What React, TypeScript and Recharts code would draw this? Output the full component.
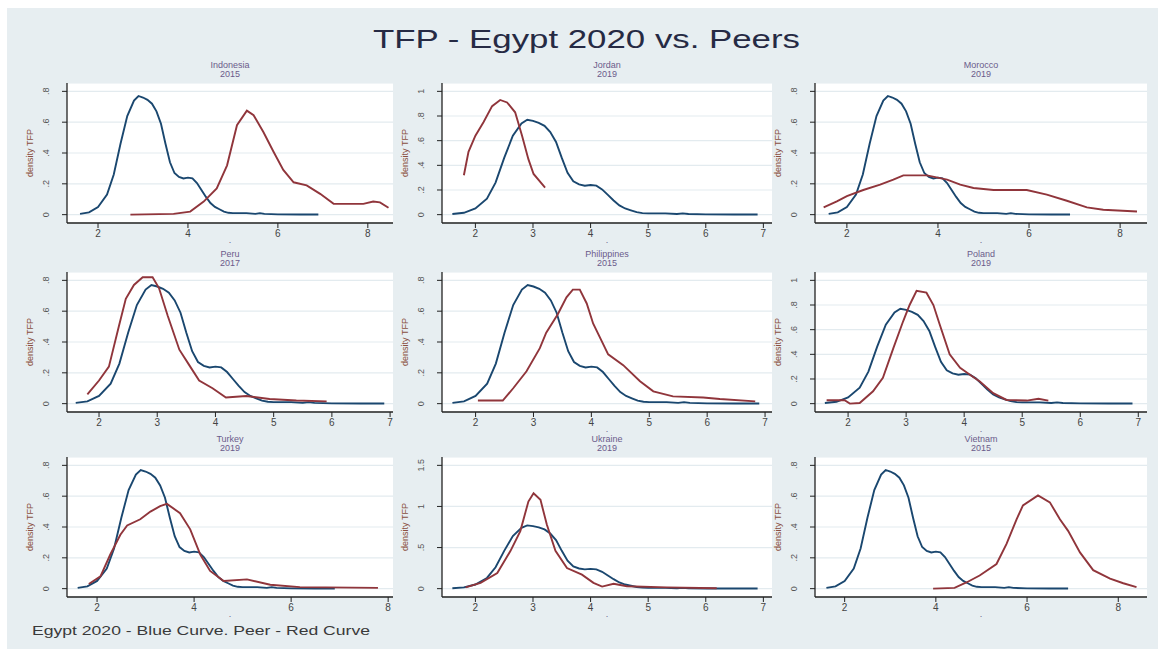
import React from "react";
import { LineChart, Line, XAxis, YAxis, CartesianGrid } from "recharts";

// Egypt 2020 TFP density (blue), same curve in every panel
const egypt2020 = [
  [1.6, 0.005], [1.8, 0.015], [2.0, 0.05], [2.2, 0.13], [2.35, 0.26], [2.5, 0.46], [2.65, 0.64],
  [2.8, 0.74], [2.9, 0.77], [3.0, 0.76], [3.1, 0.745], [3.2, 0.72], [3.3, 0.67], [3.4, 0.59],
  [3.5, 0.46], [3.6, 0.34], [3.7, 0.27], [3.8, 0.245], [3.9, 0.235], [4.0, 0.24], [4.1, 0.235],
  [4.2, 0.205], [4.3, 0.16], [4.4, 0.115], [4.5, 0.075], [4.6, 0.05], [4.7, 0.035], [4.8, 0.02],
  [4.9, 0.012], [5.0, 0.01], [5.3, 0.01], [5.5, 0.005], [5.6, 0.01], [5.7, 0.005], [6.0, 0.002],
  [6.5, 0.001], [6.9, 0.001],
];

// peer densities (red)
const indonesia2015 = [
  [2.72, 0], [3.68, 0.005], [4.05, 0.02], [4.35, 0.085], [4.64, 0.17], [4.87, 0.32], [5.09, 0.58],
  [5.31, 0.675], [5.46, 0.645], [5.68, 0.535], [5.9, 0.41], [6.12, 0.29], [6.35, 0.21], [6.64, 0.19],
  [6.94, 0.135], [7.24, 0.07], [7.9, 0.07], [8.12, 0.085], [8.27, 0.08], [8.46, 0.045],
];
const jordan2019 = [
  [1.8, 0.32], [1.88, 0.51], [2.0, 0.64], [2.14, 0.75], [2.29, 0.88], [2.43, 0.93], [2.55, 0.91],
  [2.69, 0.83], [2.81, 0.64], [2.92, 0.45], [3.01, 0.33], [3.21, 0.22],
];
const morocco2019 = [
  [1.49, 0.047], [1.78, 0.086], [2.0, 0.12], [2.36, 0.16], [2.73, 0.195], [3.02, 0.227], [3.24, 0.255],
  [3.76, 0.255], [4.2, 0.227], [4.49, 0.195], [4.78, 0.173], [5.22, 0.16], [5.95, 0.16], [6.39, 0.13],
  [6.83, 0.09], [7.27, 0.047], [7.63, 0.032], [8.37, 0.02],
];
const peru2017 = [
  [1.8, 0.06], [2.0, 0.15], [2.17, 0.24], [2.34, 0.5], [2.46, 0.68], [2.6, 0.77], [2.75, 0.82],
  [2.92, 0.82], [3.03, 0.75], [3.18, 0.57], [3.38, 0.35], [3.55, 0.25], [3.72, 0.15], [3.95, 0.1],
  [4.18, 0.04], [4.53, 0.05], [4.93, 0.03], [5.39, 0.02], [5.91, 0.015],
];
const philippines2015 = [
  [2.04, 0.02], [2.47, 0.02], [2.65, 0.1], [2.88, 0.21], [3.11, 0.36], [3.22, 0.46], [3.42, 0.58],
  [3.57, 0.69], [3.68, 0.74], [3.8, 0.74], [3.92, 0.65], [4.03, 0.52], [4.29, 0.32], [4.55, 0.25],
  [4.84, 0.145], [5.07, 0.08], [5.41, 0.047], [5.93, 0.04], [6.22, 0.03], [6.83, 0.015],
];
const poland2019 = [
  [1.63, 0.027], [1.94, 0.027], [2.03, 0], [2.2, 0.005], [2.43, 0.1], [2.6, 0.21], [2.78, 0.45],
  [2.95, 0.67], [3.06, 0.8], [3.18, 0.915], [3.35, 0.9], [3.47, 0.8], [3.58, 0.64], [3.75, 0.4],
  [3.93, 0.29], [4.1, 0.235], [4.27, 0.18], [4.5, 0.085], [4.73, 0.03], [5.08, 0.025], [5.28, 0.04],
  [5.45, 0.025],
];
const turkey2019 = [
  [1.83, 0.03], [2.07, 0.08], [2.27, 0.22], [2.48, 0.35], [2.62, 0.41], [2.89, 0.45], [3.1, 0.5],
  [3.3, 0.535], [3.44, 0.55], [3.71, 0.49], [3.92, 0.385], [4.13, 0.22], [4.33, 0.115], [4.61, 0.05],
  [5.09, 0.06], [5.57, 0.025], [6.18, 0.01], [7.79, 0.005],
];
const ukraine2019 = [
  [1.83, 0.015], [2.09, 0.07], [2.38, 0.19], [2.61, 0.46], [2.78, 0.7], [2.92, 1.06], [3.01, 1.16],
  [3.13, 1.08], [3.24, 0.78], [3.39, 0.46], [3.59, 0.25], [3.85, 0.17], [4.05, 0.07], [4.2, 0.025],
  [4.4, 0.06], [4.63, 0.03], [5.32, 0.015], [6.19, 0.005],
];
const vietnam2015 = [
  [3.94, 0], [4.41, 0.005], [4.67, 0.04], [4.96, 0.085], [5.33, 0.16], [5.55, 0.29], [5.77, 0.45],
  [5.91, 0.54], [6.24, 0.605], [6.5, 0.56], [6.72, 0.45], [6.9, 0.375], [7.16, 0.235], [7.45, 0.12],
  [7.82, 0.065], [8.11, 0.035], [8.4, 0.01],
];

const countries = ["Indonesia", "Jordan", "Morocco", "Peru", "Philippines", "Poland", "Turkey", "Ukraine", "Vietnam"];
const years = ["2015", "2019", "2019", "2017", "2015", "2019", "2019", "2019", "2015"];
const peers = [indonesia2015, jordan2019, morocco2019, peru2017, philippines2015, poland2019, turkey2019, ukraine2019, vietnam2015];
const xTicks = [[2, 4, 6, 8], [2, 3, 4, 5, 6, 7], [2, 4, 6, 8], [2, 3, 4, 5, 6, 7], [2, 3, 4, 5, 6, 7], [2, 3, 4, 5, 6, 7], [2, 4, 6, 8], [2, 3, 4, 5, 6, 7], [2, 4, 6, 8]];
const yTicks = [[0, 0.2, 0.4, 0.6, 0.8], [0, 0.2, 0.4, 0.6, 0.8, 1], [0, 0.2, 0.4, 0.6, 0.8], [0, 0.2, 0.4, 0.6, 0.8], [0, 0.2, 0.4, 0.6, 0.8], [0, 0.2, 0.4, 0.6, 0.8, 1], [0, 0.2, 0.4, 0.6, 0.8], [0, 0.5, 1, 1.5], [0, 0.2, 0.4, 0.6, 0.8]];
const xDomains = [[1.31, 8.56], [1.42, 7.15], [1.3, 8.59], [1.45, 7.05], [1.42, 7.12], [1.43, 7.15], [1.38, 8.1], [1.42, 7.15], [1.35, 8.63]];

// panel placement
const colLeft = [67, 442, 815];
const colWidth = [326, 330, 332];
const rowTop = [83, 272, 457];
const PLOT_H = 140;
const YAX_W = 50;

const BLUE = "#1a476f";
const RED = "#90353b";
const BG = "#e7eef1";
const FONT = "'Liberation Sans', Arial, sans-serif";

const pts = (arr: number[][]) => arr.map(([x, y]) => ({ x, y }));
const fmt = (v: number) => (v === 0 ? "0" : String(v).replace(/^0\./, "."));

const YTick = (props: any) => {
  const { x, y, payload } = props;
  const cx = x - 11;
  return (
    <text x={cx} y={y} transform={`rotate(-90 ${cx} ${y})`} textAnchor="middle" fontSize={9} fill="#555" fontFamily={FONT}>
      {fmt(payload.value)}
    </text>
  );
};

function Panel({ i }: { i: number }) {
  const col = i % 3;
  const row = Math.floor(i / 3);
  const left = colLeft[col];
  const top = rowTop[row];
  const w = colWidth[col];
  const yt = yTicks[i];
  const M = yt[yt.length - 1];
  const pad = 0.0677 * M;
  return (
    <>
      <div
        style={{
          position: "absolute", left, top: top - 22, width: w, textAlign: "center",
          fontSize: 9, lineHeight: "9px", color: "#6b5b8b", fontFamily: FONT,
        }}
      >
        {countries[i]}
        <br />
        {years[i]}
      </div>
      <div
        style={{
          position: "absolute", left: left - 67, top: top + PLOT_H / 2 - 5, width: 60, height: 10,
          transform: "rotate(-90deg)", textAlign: "center", fontSize: 9, lineHeight: "10px",
          color: "#8a5040", fontFamily: FONT,
        }}
      >
        density TFP
      </div>
      <div
        style={{
          position: "absolute", left, top: top + PLOT_H + 12, width: w, textAlign: "center",
          fontSize: 9, color: "#6b5b8b", fontFamily: FONT,
        }}
      >
        .
      </div>
      <div style={{ position: "absolute", left: left - YAX_W, top }}>
        <LineChart width={w + YAX_W + 2} height={PLOT_H + 25} margin={{ top: 0, right: 2, bottom: 0, left: 0 }}>
          <CartesianGrid vertical={false} stroke="#e3ebef" strokeWidth={1.2} fill="#ffffff" />
          <XAxis
            type="number"
            dataKey="x"
            domain={xDomains[i]}
            ticks={xTicks[i]}
            interval={0}
            allowDataOverflow
            height={25}
            tickSize={5}
            tickMargin={2}
            axisLine={{ stroke: "#222", strokeWidth: 1.3 }}
            tickLine={{ stroke: "#222" }}
            tick={{ fill: "#444", fontSize: 10, fontFamily: FONT }}
          />
          <YAxis
            type="number"
            dataKey="y"
            domain={[-pad, M + pad]}
            ticks={yt}
            interval={0}
            allowDataOverflow
            width={YAX_W}
            tickSize={5}
            tickMargin={2}
            axisLine={{ stroke: "#222", strokeWidth: 1.3 }}
            tickLine={{ stroke: "#222" }}
            tick={<YTick />}
          />
          <Line data={pts(egypt2020)} dataKey="y" type="linear" stroke={BLUE} strokeWidth={1.9} dot={false} isAnimationActive={false} />
          <Line data={pts(peers[i])} dataKey="y" type="linear" stroke={RED} strokeWidth={1.9} dot={false} isAnimationActive={false} />
        </LineChart>
      </div>
    </>
  );
}

export default function App() {
  return (
    <div style={{ position: "relative", width: 1158, height: 649, background: "#ffffff", overflow: "hidden" }}>
      <style>{`body{margin:0}`}</style>
      <div style={{ position: "absolute", left: 7, top: 8, right: 0, bottom: 0, background: BG }} />
      <svg style={{ position: "absolute", left: 0, top: 0 }} width={1158} height={649}>
        <text x={373} y={48} fontSize={25} fill="#262a44" fontFamily={FONT} textLength={427} lengthAdjust="spacingAndGlyphs">
          TFP - Egypt 2020 vs. Peers
        </text>
        <text x={32} y={635} fontSize={13} fill="#3a3a3a" fontFamily={FONT} textLength={338} lengthAdjust="spacingAndGlyphs">
          Egypt 2020 - Blue Curve. Peer - Red Curve
        </text>
      </svg>
      {countries.map((_, i) => (
        <Panel key={i} i={i} />
      ))}
    </div>
  );
}
